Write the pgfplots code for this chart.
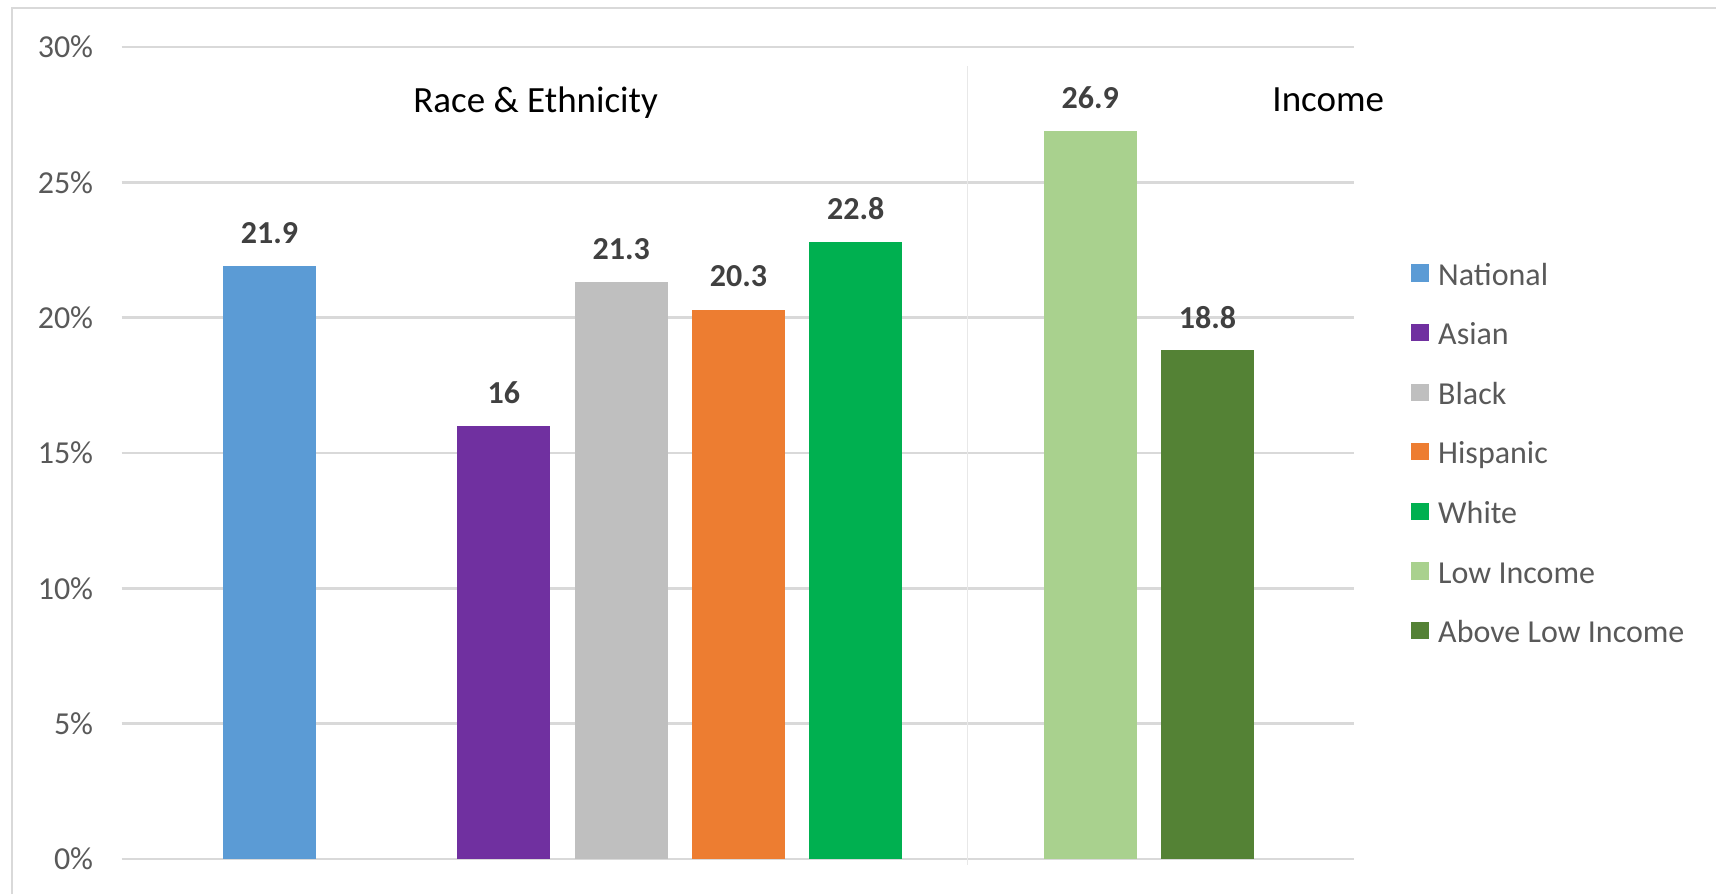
\documentclass[border=0pt]{standalone}
\usepackage{fontspec}
\setmainfont{Carlito}
\usepackage{pgfplots}
\pgfplotsset{compat=1.18}

\definecolor{cNational}{HTML}{5B9BD5}
\definecolor{cAsian}{HTML}{7030A0}
\definecolor{cBlack}{HTML}{BFBFBF}
\definecolor{cHispanic}{HTML}{ED7D31}
\definecolor{cWhite}{HTML}{00B050}
\definecolor{cLow}{HTML}{A9D18E}
\definecolor{cAbove}{HTML}{548235}
\definecolor{gridgray}{HTML}{D9D9D9}
\definecolor{divgray}{HTML}{E8E8E8}
\definecolor{tickgray}{HTML}{595959}
\definecolor{labelgray}{HTML}{404040}

\begin{document}
\begin{tikzpicture}
\useasboundingbox (0,0) rectangle (858pt,447pt);
% outer frame (left and top edges only are visible)
\draw[color=gridgray, line width=1pt] (6pt,0pt) -- (6pt,443pt) -- (858pt,443pt);
\begin{axis}[
    at={(60.75pt,17.5pt)}, anchor=south west,
    scale only axis,
    width=616.25pt, height=406pt,
    xmin=-0.262, xmax=10.25,
    ymin=0, ymax=30,
    ytick={0,5,...,30},
    xtick=\empty,
    ymajorgrids=true,
    grid style={line width=1.2pt, color=gridgray},
    axis line style={draw=none},
    major tick length=0pt,
    /pgf/number format/assume math mode=true,
    yticklabel={\pgfmathprintnumber{\tick}\%},
    yticklabel style={font=\fontsize{16}{19}\selectfont, text=tickgray, inner sep=0pt, xshift=-14pt},
    ybar, bar width=46.5pt, bar shift=0pt,
    nodes near coords,
    every node near coord/.append style={font=\fontsize{16}{19}\selectfont\bfseries, text=labelgray, anchor=center, yshift=16.5pt},
    clip=false,
    legend style={at={(1.04625,0.7368)}, anchor=north west, draw=none, fill=none,
        inner sep=0pt, row sep=13.8pt,
        nodes={inner sep=0pt, text height=12pt, text depth=4pt, text=tickgray, font=\fontsize{16}{19}\selectfont},
        /tikz/every odd column/.append style={column sep=4.8pt}},
    legend cell align=left,
    legend image code/.code={\fill[#1] (0pt,-2.2pt) rectangle (8.6pt,6.4pt);},
]
\addplot[fill=cNational, draw=none] coordinates {(1,21.9)};
\addlegendentry{National}
\addplot[fill=cAsian, draw=none] coordinates {(3,16)};
\addlegendentry{Asian}
\addplot[fill=cBlack, draw=none] coordinates {(4,21.3)};
\addlegendentry{Black}
\addplot[fill=cHispanic, draw=none] coordinates {(5,20.3)};
\addlegendentry{Hispanic}
\addplot[fill=cWhite, draw=none] coordinates {(6,22.8)};
\addlegendentry{White}
\addplot[fill=cLow, draw=none] coordinates {(8,26.9)};
\addlegendentry{Low Income}
\addplot[fill=cAbove, draw=none] coordinates {(9,18.8)};
\addlegendentry{Above Low Income}

% group divider and group headings
\draw[color=divgray, line width=0.6pt] (axis cs:6.95,-0.22) -- (axis cs:6.95,29.3);
\node[font=\fontsize{18.5}{22}\selectfont, text=black] at (axis cs:3.27,27.95) {Race \& Ethnicity};
\node[font=\fontsize{18.5}{22}\selectfont, text=black] at (axis cs:10.03,28.05) {Income};
\end{axis}
\end{tikzpicture}
\end{document}
